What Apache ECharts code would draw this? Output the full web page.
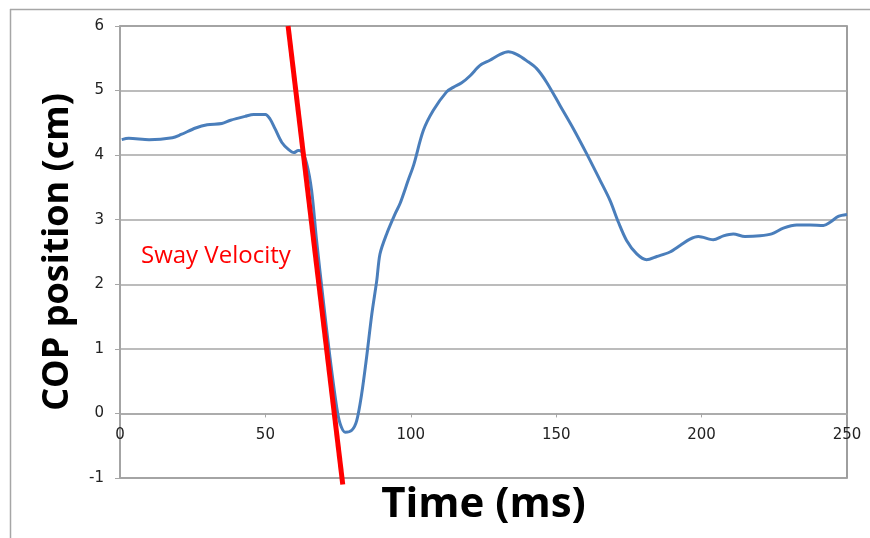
<!DOCTYPE html>
<html>
<head>
<meta charset="utf-8">
<script src="https://cdn.jsdelivr.net/npm/echarts@6/dist/echarts.min.js"></script>
<style>
html,body{margin:0;padding:0;background:#fff;}
#chart{width:870px;height:538px;}
</style>
</head>
<body>
<div id="chart"></div>
<script>
const timeMs = [0.6, 3, 10, 18, 21, 26, 30, 35, 38, 43, 46, 50, 51.6, 53.3, 55.6, 57.9, 59.8, 61.3, 62.4, 64.2, 65.9, 67.6, 69.9, 72.2, 74.5, 75.7, 77.4, 79.7, 81.4, 83.1, 84.8, 86.6, 88.3, 89.4, 91.7, 94.6, 96.3, 99.1, 101, 104.3, 107.7, 112.3, 114.6, 117.5, 120.4, 123.8, 127.2, 130.7, 133.5, 136.4, 139.9, 143.3, 146.7, 151.3, 155.9, 160.5, 165.1, 168.5, 171.4, 174.2, 177.7, 181.1, 184.6, 189.1, 192.6, 196, 198.9, 204, 207.5, 210.9, 214.9, 220.1, 224.1, 228.1, 232.7, 237.3, 241.9, 244.2, 247, 250];
const copCm = [4.24, 4.26, 4.24, 4.27, 4.32, 4.42, 4.47, 4.49, 4.54, 4.60, 4.63, 4.63, 4.56, 4.41, 4.20, 4.09, 4.04, 4.07, 4.06, 3.87, 3.45, 2.68, 1.75, 0.87, 0.10, -0.16, -0.29, -0.26, -0.11, 0.30, 0.87, 1.54, 2.06, 2.47, 2.78, 3.09, 3.25, 3.61, 3.85, 4.38, 4.69, 4.98, 5.05, 5.12, 5.23, 5.39, 5.47, 5.56, 5.60, 5.56, 5.46, 5.34, 5.13, 4.77, 4.41, 4.02, 3.61, 3.30, 2.96, 2.68, 2.47, 2.38, 2.43, 2.50, 2.60, 2.70, 2.74, 2.69, 2.75, 2.78, 2.74, 2.75, 2.78, 2.87, 2.92, 2.92, 2.91, 2.96, 3.05, 3.08];
const swayTime = [57.8, 76.6];
const swayCop = [6, -1.1];
const xTicks = [0, 50, 100, 150, 200, 250];
const yTicks = [-1, 0, 1, 2, 3, 4, 5, 6];

const gridTop = 26, gridBottom = 60, chartH = 538;
const unitPx = (chartH - gridTop - gridBottom) / (yTicks[yTicks.length - 1] - yTicks[0]);

const chart = echarts.init(document.getElementById('chart'));
chart.setOption({
  animation: false,
  backgroundColor: '#fff',
  grid: {left: 120, top: gridTop, right: 23, bottom: gridBottom, containLabel: false, outerBoundsMode: 'none',
         show: true, borderColor: '#7f7f7f', borderWidth: 1.5, backgroundColor: 'transparent'},
  xAxis: {
    type: 'value', min: xTicks[0], max: xTicks[xTicks.length - 1], interval: 50,
    position: 'bottom', offset: -unitPx * (0 - yTicks[0]),
    name: 'Time (ms)', nameLocation: 'middle', nameGap: 71,
    nameTextStyle: {fontFamily: 'Open Sans', fontWeight: 'bold', fontSize: 42, color: '#000'},
    axisLine: {onZero: false, lineStyle: {color: '#a6a6a6', width: 1.5}},
    axisTick: {show: true, inside: false, length: 4, lineStyle: {color: '#a6a6a6'}},
    axisLabel: {margin: 14, fontFamily: 'DejaVu Sans', fontSize: 15, color: '#222'},
    splitLine: {show: false}
  },
  yAxis: {
    type: 'value', min: yTicks[0], max: yTicks[yTicks.length - 1], interval: 1,
    name: 'COP position (cm)', nameLocation: 'middle', nameGap: 44,
    nameTextStyle: {fontFamily: 'Open Sans', fontWeight: 'bold', fontSize: 36, color: '#000'},
    axisLine: {show: true, onZero: false, lineStyle: {color: '#a6a6a6', width: 1.5}},
    axisTick: {show: true, length: 5, lineStyle: {color: '#a6a6a6'}},
    axisLabel: {margin: 16, fontFamily: 'DejaVu Sans', fontSize: 15, color: '#222'},
    splitLine: {show: true, lineStyle: {color: '#a6a6a6', width: 1.5}}
  },
  graphic: [
    {type: 'line', shape: {x1: 10, y1: 9.5, x2: 870, y2: 9.5}, style: {stroke: '#a6a6a6', lineWidth: 1.5}},
    {type: 'line', shape: {x1: 10.5, y1: 9, x2: 10.5, y2: 538}, style: {stroke: '#a6a6a6', lineWidth: 1.5}},
    {type: 'text', x: 141, y: 256, style: {text: 'Sway Velocity', fill: '#ff0000', font: '24px "Open Sans"', textVerticalAlign: 'middle', verticalAlign: 'middle'}}
  ],
  series: [
    {type: 'line', data: timeMs.map((t, i) => [t, copCm[i]]), showSymbol: false, smooth: 0.3,
     lineStyle: {color: '#4a7ebb', width: 3}, z: 2},
    {type: 'line', data: swayTime.map((t, i) => [t, swayCop[i]]), showSymbol: false, clip: false,
     lineStyle: {color: '#ff0000', width: 5}, z: 3}
  ]
});
</script>
</body>
</html>
